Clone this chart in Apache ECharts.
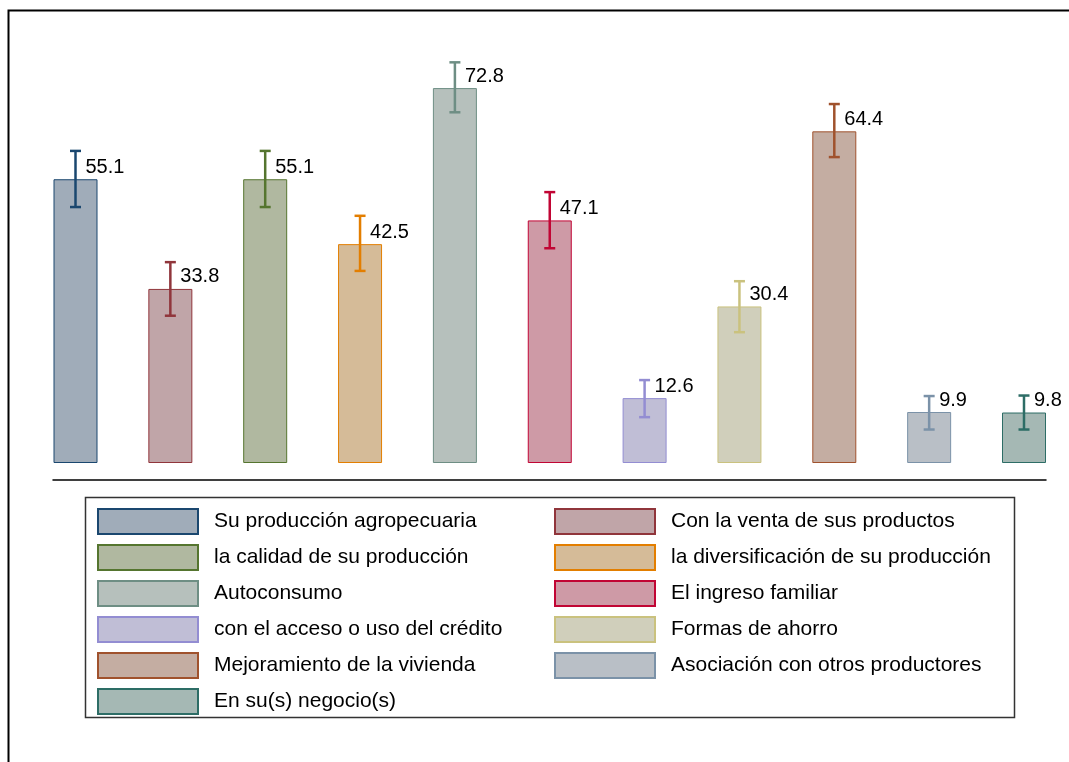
<!DOCTYPE html>
<html>
<head>
<meta charset="utf-8">
<script src="https://cdn.jsdelivr.net/npm/echarts@6/dist/echarts.min.js"></script>
<style>
  html, body { margin: 0; padding: 0; background: #fff; }
  #chart { width: 1069px; height: 762px; }
</style>
</head>
<body>
<div id="chart"></div>
<script>
var categories = ['Su producción agropecuaria', 'Con la venta de sus productos', 'la calidad de su producción',
  'la diversificación de su producción', 'Autoconsumo', 'El ingreso familiar', 'con el acceso o uso del crédito',
  'Formas de ahorro', 'Mejoramiento de la vivienda', 'Asociación con otros productores', 'En su(s) negocio(s)'];
var values = [55.1, 33.8, 55.1, 42.5, 72.8, 47.1, 12.6, 30.4, 64.4, 9.9, 9.8];
var lower = [49.7, 28.6, 49.7, 37.3, 68.1, 41.7, 8.9, 25.4, 59.4, 6.5, 6.5];
var upper = [60.6, 39.0, 60.6, 48.0, 77.8, 52.6, 16.1, 35.3, 69.7, 13.0, 13.1];

var lineColors = ['#1a476f', '#90353b', '#55752f', '#e37e00', '#6e8e84', '#c10534',
  '#938dd2', '#cac27e', '#a0522d', '#7b92a8', '#2d6d66'];
var fillColors = ['#a0acb9', '#c0a5a8', '#b0b8a0', '#d5bb98', '#b6c0bc', '#ce9aa6',
  '#c0bed6', '#d0cfbb', '#c4ada2', '#b9bfc6', '#a5b8b4'];

var myChart = echarts.init(document.getElementById('chart'));

var series = [];
for (var i = 0; i < categories.length; i++) {
  var d = [];
  for (var j = 0; j < categories.length; j++) {
    d.push(j === i ? values[i] : '-');
  }
  series.push({
    name: categories[i],
    type: 'bar',
    data: d,
    barWidth: 44,
    barGap: '-100%',
    itemStyle: { color: fillColors[i], borderColor: lineColors[i], borderWidth: 1 },
    label: {
      show: true,
      position: [32, -12],
      align: 'left',
      verticalAlign: 'middle',
      fontFamily: 'Liberation Sans',
      fontSize: 20,
      color: '#000',
      formatter: function (p) { return p.value.toFixed(1); }
    },
    silent: true
  });
}

var errData = [];
for (var k = 0; k < categories.length; k++) {
  errData.push([k, lower[k], upper[k]]);
}
series.push({
  name: 'ci',
  type: 'custom',
  data: errData,
  z: 10,
  renderItem: function (params, api) {
    var x = api.value(0);
    var lo = api.coord([x, api.value(1)]);
    var hi = api.coord([x, api.value(2)]);
    var c = lineColors[params.dataIndex];
    var w = 5.5;
    var st = { stroke: c, lineWidth: 2.5 };
    return {
      type: 'group',
      children: [
        { type: 'line', shape: { x1: lo[0], y1: lo[1], x2: hi[0], y2: hi[1] }, style: st },
        { type: 'line', shape: { x1: lo[0] - w, y1: lo[1], x2: lo[0] + w, y2: lo[1] }, style: st },
        { type: 'line', shape: { x1: hi[0] - w, y1: hi[1], x2: hi[0] + w, y2: hi[1] }, style: st }
      ]
    };
  }
});

var leftNames = [], rightNames = [];
for (var m = 0; m < categories.length; m++) {
  (m % 2 === 0 ? leftNames : rightNames).push(categories[m]);
}

var legendCommon = {
  orient: 'vertical',
  top: 508,
  padding: 0,
  itemWidth: 100,
  itemHeight: 25,
  itemGap: 9,
  icon: 'rect',
  selectedMode: false,
  textStyle: { fontFamily: 'Liberation Sans', fontSize: 21, lineHeight: 25, color: '#000', padding: [0, 0, 0, 11] }
};

var option = {
  animation: false,
  backgroundColor: '#fff',
  grid: [
    { left: 75.5, right: 45, top: 51, bottom: 299 },
    { left: 53, right: 23, top: 479, height: 1 }
  ],
  xAxis: [
    { type: 'category', gridIndex: 0, data: categories, boundaryGap: false, show: false },
    { type: 'value', gridIndex: 1, min: 0, max: 1, axisLine: { show: true, onZero: false, lineStyle: { color: '#000', width: 1.5 } },
      axisTick: { show: false }, axisLabel: { show: false }, splitLine: { show: false } }
  ],
  yAxis: [
    { type: 'value', gridIndex: 0, min: 0, max: 80, show: false },
    { type: 'value', gridIndex: 1, show: false }
  ],
  legend: [
    Object.assign({}, legendCommon, { left: 97, data: leftNames }),
    Object.assign({}, legendCommon, { left: 554, data: rightNames })
  ],
  graphic: [
    { type: 'rect', shape: { x: 8.5, y: 10.5, width: 1100, height: 800 },
      style: { fill: 'none', stroke: '#000', lineWidth: 2 }, silent: true },
    { type: 'rect', shape: { x: 85.5, y: 497.5, width: 929, height: 220 },
      style: { fill: 'none', stroke: '#333', lineWidth: 1.5 }, silent: true }
  ],
  series: series
};
myChart.setOption(option);
</script>
</body>
</html>
